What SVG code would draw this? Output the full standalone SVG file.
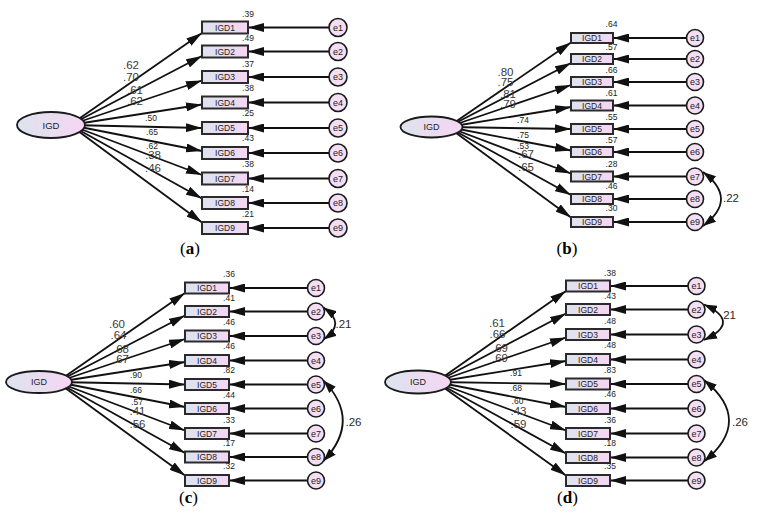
<svg xmlns="http://www.w3.org/2000/svg" width="761" height="525" viewBox="0 0 761 525">
<style>
text{font-family:"Liberation Sans",Arial,sans-serif;fill:#222}
.box{fill:url(#g);stroke:#2a2a2a;stroke-width:2}
.lat{fill:url(#g);stroke:#1a1a1a;stroke-width:1.8}
.err{fill:#f4def4;stroke:#1a1a1a;stroke-width:1.6}
.bl{font-size:8.5px;text-anchor:middle}
.el{font-size:9px;text-anchor:middle}
.vl{font-size:8.5px;text-anchor:middle}
.ls{font-size:8.5px;text-anchor:middle}
.ll{font-size:11.5px;text-anchor:middle;fill:#3a3a3a}
.cl{font-size:11.5px;text-anchor:middle;fill:#2a2a2a}
.cap{font-family:"Liberation Serif","Times New Roman",serif;font-size:17px;text-anchor:middle;fill:#000}
.c line,.c path{stroke:#111;stroke-width:1.8;fill:none}
.c line{marker-end:url(#ah)}
.c path{marker-start:url(#ch);marker-end:url(#ch)}
</style>
<defs>
<linearGradient id="g" x1="0" y1="0" x2="1" y2="0">
<stop offset="0" stop-color="#dde3ee"/>
<stop offset="1" stop-color="#f5d6f3"/>
</linearGradient>
<marker id="ah" viewBox="0 0 16 9" refX="16" refY="4.5" markerWidth="16" markerHeight="9" markerUnits="userSpaceOnUse" orient="auto">
<path d="M0,0 L16,4.5 L0,9 z" fill="#111"/>
</marker>
<marker id="ch" viewBox="0 0 13 9" refX="13" refY="4.5" markerWidth="13" markerHeight="9" markerUnits="userSpaceOnUse" orient="auto-start-reverse">
<path d="M0,0 L13,4.5 L0,9 z" fill="#111"/>
</marker>
</defs>

<g id="connectors" class="c">
<!-- panel a -->
<line x1="70" y1="125" x2="202" y2="33"/>
<line x1="70" y1="125" x2="202" y2="56"/>
<line x1="70" y1="125" x2="202" y2="80.5"/>
<line x1="70" y1="125" x2="202" y2="104.5"/>
<line x1="70" y1="125" x2="202" y2="128"/>
<line x1="70" y1="125" x2="202" y2="151"/>
<line x1="70" y1="125" x2="202" y2="175"/>
<line x1="70" y1="125" x2="202" y2="198.5"/>
<line x1="70" y1="125" x2="202" y2="222.5"/>
<line x1="329" y1="27.5" x2="248" y2="27.5"/>
<line x1="329" y1="51.5" x2="248" y2="51.5"/>
<line x1="329" y1="77" x2="248" y2="77"/>
<line x1="329" y1="102.5" x2="248" y2="102.5"/>
<line x1="329" y1="128" x2="248" y2="128"/>
<line x1="329" y1="153" x2="248" y2="153"/>
<line x1="329" y1="178.5" x2="248" y2="178.5"/>
<line x1="329" y1="203" x2="248" y2="203"/>
<line x1="329" y1="228" x2="248" y2="228"/>
<!-- panel b -->
<line x1="448" y1="127" x2="571" y2="42.5"/>
<line x1="448" y1="127" x2="571" y2="63"/>
<line x1="448" y1="127" x2="571" y2="85"/>
<line x1="448" y1="127" x2="571" y2="107"/>
<line x1="448" y1="127" x2="571" y2="129"/>
<line x1="448" y1="127" x2="571" y2="150.5"/>
<line x1="448" y1="127" x2="571" y2="173.5"/>
<line x1="448" y1="127" x2="571" y2="195"/>
<line x1="448" y1="127" x2="571" y2="217.5"/>
<line x1="686.5" y1="38" x2="613" y2="38"/>
<line x1="686.5" y1="59" x2="613" y2="59"/>
<line x1="686.5" y1="82" x2="613" y2="82"/>
<line x1="686.5" y1="105.5" x2="613" y2="105.5"/>
<line x1="686.5" y1="129" x2="613" y2="129"/>
<line x1="686.5" y1="152" x2="613" y2="152"/>
<line x1="686.5" y1="176.5" x2="613" y2="176.5"/>
<line x1="686.5" y1="199" x2="613" y2="199"/>
<line x1="686.5" y1="222" x2="613" y2="222"/>
<path d="M703,172 Q739,199 703,226"/>
<!-- panel c -->
<line x1="57" y1="382" x2="185" y2="293"/>
<line x1="57" y1="382" x2="185" y2="315.5"/>
<line x1="57" y1="382" x2="185" y2="339"/>
<line x1="57" y1="382" x2="185" y2="362"/>
<line x1="57" y1="382" x2="185" y2="384.5"/>
<line x1="57" y1="382" x2="185" y2="407"/>
<line x1="57" y1="382" x2="185" y2="430.5"/>
<line x1="57" y1="382" x2="185" y2="453"/>
<line x1="57" y1="382" x2="185" y2="475.5"/>
<line x1="307.5" y1="288" x2="229" y2="288"/>
<line x1="307.5" y1="311.5" x2="229" y2="311.5"/>
<line x1="307.5" y1="336" x2="229" y2="336"/>
<line x1="307.5" y1="360.5" x2="229" y2="360.5"/>
<line x1="307.5" y1="384.5" x2="229" y2="384.5"/>
<line x1="307.5" y1="408.5" x2="229" y2="408.5"/>
<line x1="307.5" y1="433.5" x2="229" y2="433.5"/>
<line x1="307.5" y1="457" x2="229" y2="457"/>
<line x1="307.5" y1="480.5" x2="229" y2="480.5"/>
<path d="M323.5,307.5 Q347,323.5 323.5,339.5"/>
<path d="M323.5,380.5 Q362,420.5 323.5,461"/>
<!-- panel d -->
<line x1="436" y1="382" x2="566" y2="291"/>
<line x1="436" y1="382" x2="566" y2="313.5"/>
<line x1="436" y1="382" x2="566" y2="337.5"/>
<line x1="436" y1="382" x2="566" y2="361"/>
<line x1="436" y1="382" x2="566" y2="384"/>
<line x1="436" y1="382" x2="566" y2="407"/>
<line x1="436" y1="382" x2="566" y2="430.5"/>
<line x1="436" y1="382" x2="566" y2="453.5"/>
<line x1="436" y1="382" x2="566" y2="475.5"/>
<line x1="688" y1="286" x2="610" y2="286"/>
<line x1="688" y1="309.5" x2="610" y2="309.5"/>
<line x1="688" y1="334.5" x2="610" y2="334.5"/>
<line x1="688" y1="359.5" x2="610" y2="359.5"/>
<line x1="688" y1="384" x2="610" y2="384"/>
<line x1="688" y1="408.5" x2="610" y2="408.5"/>
<line x1="688" y1="433.5" x2="610" y2="433.5"/>
<line x1="688" y1="457.5" x2="610" y2="457.5"/>
<line x1="688" y1="480.5" x2="610" y2="480.5"/>
<path d="M704,304.5 Q742,322 704,340"/>
<path d="M704,380 Q754,420.5 704,461.5"/>
</g>

<g id="labels-loadings">
<text class="ll" x="131" y="69">.62</text>
<text class="ll" x="131" y="81">.70</text>
<text class="ll" x="135" y="94">.61</text>
<text class="ll" x="135" y="105">.62</text>
<text class="ls" x="151" y="120.5">.50</text>
<text class="ls" x="152" y="135">.65</text>
<text class="ls" x="152" y="149">.62</text>
<text class="ll" x="153" y="159">.38</text>
<text class="ll" x="153" y="171.5">.46</text>

<text class="ll" x="505.5" y="75.5">.80</text>
<text class="ll" x="505.5" y="86">.75</text>
<text class="ll" x="508" y="97.5">.81</text>
<text class="ll" x="508" y="108">.79</text>
<text class="ls" x="523" y="123">.74</text>
<text class="ls" x="523" y="138">.75</text>
<text class="ls" x="523" y="149">.53</text>
<text class="ll" x="526" y="158">.67</text>
<text class="ll" x="526" y="170.5">.65</text>

<text class="ll" x="117" y="327.5">.60</text>
<text class="ll" x="118.5" y="339">.64</text>
<text class="ll" x="121" y="352.5">.68</text>
<text class="ll" x="121" y="362.5">.67</text>
<text class="ls" x="136" y="378">.90</text>
<text class="ls" x="136" y="393">.66</text>
<text class="ls" x="137" y="405">.57</text>
<text class="ll" x="137.5" y="414.5">.41</text>
<text class="ll" x="137.5" y="427.5">.56</text>

<text class="ll" x="497" y="326.5">.61</text>
<text class="ll" x="497.5" y="338">.66</text>
<text class="ll" x="500" y="351.5">.69</text>
<text class="ll" x="500" y="361.5">.69</text>
<text class="ls" x="516" y="376">.91</text>
<text class="ls" x="516" y="391">.68</text>
<text class="ls" x="517.5" y="404">.60</text>
<text class="ll" x="518.5" y="414.5">.43</text>
<text class="ll" x="518.5" y="427.5">.59</text>
</g>

<g id="labels-covariances">
<text class="cl" x="731" y="201.5">.22</text>
<text class="cl" x="343.5" y="328">.21</text>
<text class="cl" x="353.5" y="426">.26</text>
<text class="cl" x="728" y="318.5">.21</text>
<text class="cl" x="740" y="425.5">.26</text>
</g>

<!-- Panel a nodes -->
<g id="a-IGD"><ellipse class="lat" cx="51" cy="125" rx="34" ry="13"/><text class="el" x="51" y="128.5" style="font-size:9.5px">IGD</text></g>
<g id="a-IGD1"><rect class="box" x="202" y="21.5" width="46" height="12"/><text class="bl" x="225" y="30.5">IGD1</text><text class="vl" x="248" y="16.5">.39</text></g>
<g id="a-IGD2"><rect class="box" x="202" y="45.5" width="46" height="12"/><text class="bl" x="225" y="54.5">IGD2</text><text class="vl" x="248" y="40.5">.49</text></g>
<g id="a-IGD3"><rect class="box" x="202" y="71" width="46" height="12"/><text class="bl" x="225" y="80">IGD3</text><text class="vl" x="248" y="66.5">.37</text></g>
<g id="a-IGD4"><rect class="box" x="202" y="96.5" width="46" height="12"/><text class="bl" x="225" y="105.5">IGD4</text><text class="vl" x="248" y="91">.38</text></g>
<g id="a-IGD5"><rect class="box" x="202" y="122" width="46" height="12"/><text class="bl" x="225" y="131">IGD5</text><text class="vl" x="248" y="116">.25</text></g>
<g id="a-IGD6"><rect class="box" x="202" y="147" width="46" height="12"/><text class="bl" x="225" y="156">IGD6</text><text class="vl" x="248" y="141">.43</text></g>
<g id="a-IGD7"><rect class="box" x="202" y="172.5" width="46" height="12"/><text class="bl" x="225" y="181.5">IGD7</text><text class="vl" x="248" y="166.5">.38</text></g>
<g id="a-IGD8"><rect class="box" x="202" y="197" width="46" height="12"/><text class="bl" x="225" y="206">IGD8</text><text class="vl" x="248" y="192">.14</text></g>
<g id="a-IGD9"><rect class="box" x="202" y="222" width="46" height="12"/><text class="bl" x="225" y="231">IGD9</text><text class="vl" x="248" y="216.5">.21</text></g>
<g id="a-e1"><circle class="err" cx="338" cy="27.5" r="9"/><text class="el" x="338" y="30.7">e1</text></g>
<g id="a-e2"><circle class="err" cx="338" cy="51.5" r="9"/><text class="el" x="338" y="54.7">e2</text></g>
<g id="a-e3"><circle class="err" cx="338" cy="77" r="9"/><text class="el" x="338" y="80.2">e3</text></g>
<g id="a-e4"><circle class="err" cx="338" cy="102.5" r="9"/><text class="el" x="338" y="105.7">e4</text></g>
<g id="a-e5"><circle class="err" cx="338" cy="128" r="9"/><text class="el" x="338" y="131.2">e5</text></g>
<g id="a-e6"><circle class="err" cx="338" cy="153" r="9"/><text class="el" x="338" y="156.2">e6</text></g>
<g id="a-e7"><circle class="err" cx="338" cy="178.5" r="9"/><text class="el" x="338" y="181.7">e7</text></g>
<g id="a-e8"><circle class="err" cx="338" cy="203" r="9"/><text class="el" x="338" y="206.2">e8</text></g>
<g id="a-e9"><circle class="err" cx="338" cy="228" r="9"/><text class="el" x="338" y="231.2">e9</text></g>
<text class="cap" x="190" y="254">(<tspan font-weight="bold">a</tspan>)</text>

<!-- Panel b nodes -->
<g id="b-IGD"><ellipse class="lat" cx="431.5" cy="127" rx="31" ry="10.5"/><text class="el" x="431.5" y="130.3">IGD</text></g>
<g id="b-IGD1"><rect class="box" x="571" y="33" width="42" height="10"/><text class="bl" x="592" y="41">IGD1</text><text class="vl" x="611.5" y="27">.64</text></g>
<g id="b-IGD2"><rect class="box" x="571" y="54" width="42" height="10"/><text class="bl" x="592" y="62">IGD2</text><text class="vl" x="611.5" y="50">.57</text></g>
<g id="b-IGD3"><rect class="box" x="571" y="77" width="42" height="10"/><text class="bl" x="592" y="85">IGD3</text><text class="vl" x="611.5" y="73">.66</text></g>
<g id="b-IGD4"><rect class="box" x="571" y="100.5" width="42" height="10"/><text class="bl" x="592" y="108.5">IGD4</text><text class="vl" x="611.5" y="96">.61</text></g>
<g id="b-IGD5"><rect class="box" x="571" y="124" width="42" height="10"/><text class="bl" x="592" y="132">IGD5</text><text class="vl" x="611.5" y="119.5">.55</text></g>
<g id="b-IGD6"><rect class="box" x="571" y="147" width="42" height="10"/><text class="bl" x="592" y="155">IGD6</text><text class="vl" x="611.5" y="143">.57</text></g>
<g id="b-IGD7"><rect class="box" x="571" y="171.5" width="42" height="10"/><text class="bl" x="592" y="179.5">IGD7</text><text class="vl" x="611.5" y="167">.28</text></g>
<g id="b-IGD8"><rect class="box" x="571" y="194" width="42" height="10"/><text class="bl" x="592" y="202">IGD8</text><text class="vl" x="611.5" y="189">.46</text></g>
<g id="b-IGD9"><rect class="box" x="571" y="217" width="42" height="10"/><text class="bl" x="592" y="225">IGD9</text><text class="vl" x="611.5" y="211">.30</text></g>
<g id="b-e1"><circle class="err" cx="695" cy="38" r="8.5"/><text class="el" x="695" y="41.2">e1</text></g>
<g id="b-e2"><circle class="err" cx="695" cy="59" r="8.5"/><text class="el" x="695" y="62.2">e2</text></g>
<g id="b-e3"><circle class="err" cx="695" cy="82" r="8.5"/><text class="el" x="695" y="85.2">e3</text></g>
<g id="b-e4"><circle class="err" cx="695" cy="105.5" r="8.5"/><text class="el" x="695" y="108.7">e4</text></g>
<g id="b-e5"><circle class="err" cx="695" cy="129" r="8.5"/><text class="el" x="695" y="132.2">e5</text></g>
<g id="b-e6"><circle class="err" cx="695" cy="152" r="8.5"/><text class="el" x="695" y="155.2">e6</text></g>
<g id="b-e7"><circle class="err" cx="695" cy="176.5" r="8.5"/><text class="el" x="695" y="179.7">e7</text></g>
<g id="b-e8"><circle class="err" cx="695" cy="199" r="8.5"/><text class="el" x="695" y="202.2">e8</text></g>
<g id="b-e9"><circle class="err" cx="695" cy="222" r="8.5"/><text class="el" x="695" y="225.2">e9</text></g>
<text class="cap" x="567" y="254">(<tspan font-weight="bold">b</tspan>)</text>

<!-- Panel c nodes -->
<g id="c-IGD"><ellipse class="lat" cx="39" cy="382" rx="33" ry="11"/><text class="el" x="39" y="385.3">IGD</text></g>
<g id="c-IGD1"><rect class="box" x="185" y="282.5" width="44" height="11"/><text class="bl" x="207" y="291">IGD1</text><text class="vl" x="229" y="277">.36</text></g>
<g id="c-IGD2"><rect class="box" x="185" y="306" width="44" height="11"/><text class="bl" x="207" y="314.5">IGD2</text><text class="vl" x="229" y="300.5">.41</text></g>
<g id="c-IGD3"><rect class="box" x="185" y="330.5" width="44" height="11"/><text class="bl" x="207" y="339">IGD3</text><text class="vl" x="229" y="325">.46</text></g>
<g id="c-IGD4"><rect class="box" x="185" y="355" width="44" height="11"/><text class="bl" x="207" y="363.5">IGD4</text><text class="vl" x="229" y="349">.46</text></g>
<g id="c-IGD5"><rect class="box" x="185" y="379" width="44" height="11"/><text class="bl" x="207" y="387.5">IGD5</text><text class="vl" x="229" y="373">.82</text></g>
<g id="c-IGD6"><rect class="box" x="185" y="403" width="44" height="11"/><text class="bl" x="207" y="411.5">IGD6</text><text class="vl" x="229" y="397.5">.44</text></g>
<g id="c-IGD7"><rect class="box" x="185" y="428" width="44" height="11"/><text class="bl" x="207" y="436.5">IGD7</text><text class="vl" x="229" y="422.5">.33</text></g>
<g id="c-IGD8"><rect class="box" x="185" y="451.5" width="44" height="11"/><text class="bl" x="207" y="460">IGD8</text><text class="vl" x="229" y="445.5">.17</text></g>
<g id="c-IGD9"><rect class="box" x="185" y="475" width="44" height="11"/><text class="bl" x="207" y="483.5">IGD9</text><text class="vl" x="229" y="469">.32</text></g>
<g id="c-e1"><circle class="err" cx="316" cy="288" r="8.5"/><text class="el" x="316" y="291.2">e1</text></g>
<g id="c-e2"><circle class="err" cx="316" cy="311.5" r="8.5"/><text class="el" x="316" y="314.7">e2</text></g>
<g id="c-e3"><circle class="err" cx="316" cy="336" r="8.5"/><text class="el" x="316" y="339.2">e3</text></g>
<g id="c-e4"><circle class="err" cx="316" cy="360.5" r="8.5"/><text class="el" x="316" y="363.7">e4</text></g>
<g id="c-e5"><circle class="err" cx="316" cy="384.5" r="8.5"/><text class="el" x="316" y="387.7">e5</text></g>
<g id="c-e6"><circle class="err" cx="316" cy="408.5" r="8.5"/><text class="el" x="316" y="411.7">e6</text></g>
<g id="c-e7"><circle class="err" cx="316" cy="433.5" r="8.5"/><text class="el" x="316" y="436.7">e7</text></g>
<g id="c-e8"><circle class="err" cx="316" cy="457" r="8.5"/><text class="el" x="316" y="460.2">e8</text></g>
<g id="c-e9"><circle class="err" cx="316" cy="480.5" r="8.5"/><text class="el" x="316" y="483.7">e9</text></g>
<text class="cap" x="188.5" y="503">(<tspan font-weight="bold">c</tspan>)</text>

<!-- Panel d nodes -->
<g id="d-IGD"><ellipse class="lat" cx="418" cy="382" rx="33" ry="11.5"/><text class="el" x="418" y="385.3">IGD</text></g>
<g id="d-IGD1"><rect class="box" x="566" y="280.5" width="44" height="11"/><text class="bl" x="588" y="289">IGD1</text><text class="vl" x="610" y="275.5">.38</text></g>
<g id="d-IGD2"><rect class="box" x="566" y="304" width="44" height="11"/><text class="bl" x="588" y="312.5">IGD2</text><text class="vl" x="610" y="298.5">.43</text></g>
<g id="d-IGD3"><rect class="box" x="566" y="329" width="44" height="11"/><text class="bl" x="588" y="337.5">IGD3</text><text class="vl" x="610" y="323.5">.48</text></g>
<g id="d-IGD4"><rect class="box" x="566" y="354" width="44" height="11"/><text class="bl" x="588" y="362.5">IGD4</text><text class="vl" x="610" y="348">.48</text></g>
<g id="d-IGD5"><rect class="box" x="566" y="378.5" width="44" height="11"/><text class="bl" x="588" y="387">IGD5</text><text class="vl" x="610" y="373">.83</text></g>
<g id="d-IGD6"><rect class="box" x="566" y="403" width="44" height="11"/><text class="bl" x="588" y="411.5">IGD6</text><text class="vl" x="610" y="397">.46</text></g>
<g id="d-IGD7"><rect class="box" x="566" y="428" width="44" height="11"/><text class="bl" x="588" y="436.5">IGD7</text><text class="vl" x="610" y="422.5">.36</text></g>
<g id="d-IGD8"><rect class="box" x="566" y="452" width="44" height="11"/><text class="bl" x="588" y="460.5">IGD8</text><text class="vl" x="610" y="445.5">.18</text></g>
<g id="d-IGD9"><rect class="box" x="566" y="475" width="44" height="11"/><text class="bl" x="588" y="483.5">IGD9</text><text class="vl" x="610" y="469">.35</text></g>
<g id="d-e1"><circle class="err" cx="696.5" cy="286" r="8.5"/><text class="el" x="696.5" y="289.2">e1</text></g>
<g id="d-e2"><circle class="err" cx="696.5" cy="309.5" r="8.5"/><text class="el" x="696.5" y="312.7">e2</text></g>
<g id="d-e3"><circle class="err" cx="696.5" cy="334.5" r="8.5"/><text class="el" x="696.5" y="337.7">e3</text></g>
<g id="d-e4"><circle class="err" cx="696.5" cy="359.5" r="8.5"/><text class="el" x="696.5" y="362.7">e4</text></g>
<g id="d-e5"><circle class="err" cx="696.5" cy="384" r="8.5"/><text class="el" x="696.5" y="387.2">e5</text></g>
<g id="d-e6"><circle class="err" cx="696.5" cy="408.5" r="8.5"/><text class="el" x="696.5" y="411.7">e6</text></g>
<g id="d-e7"><circle class="err" cx="696.5" cy="433.5" r="8.5"/><text class="el" x="696.5" y="436.7">e7</text></g>
<g id="d-e8"><circle class="err" cx="696.5" cy="457.5" r="8.5"/><text class="el" x="696.5" y="460.7">e8</text></g>
<g id="d-e9"><circle class="err" cx="696.5" cy="480.5" r="8.5"/><text class="el" x="696.5" y="483.7">e9</text></g>
<text class="cap" x="567.5" y="503">(<tspan font-weight="bold">d</tspan>)</text>
</svg>
